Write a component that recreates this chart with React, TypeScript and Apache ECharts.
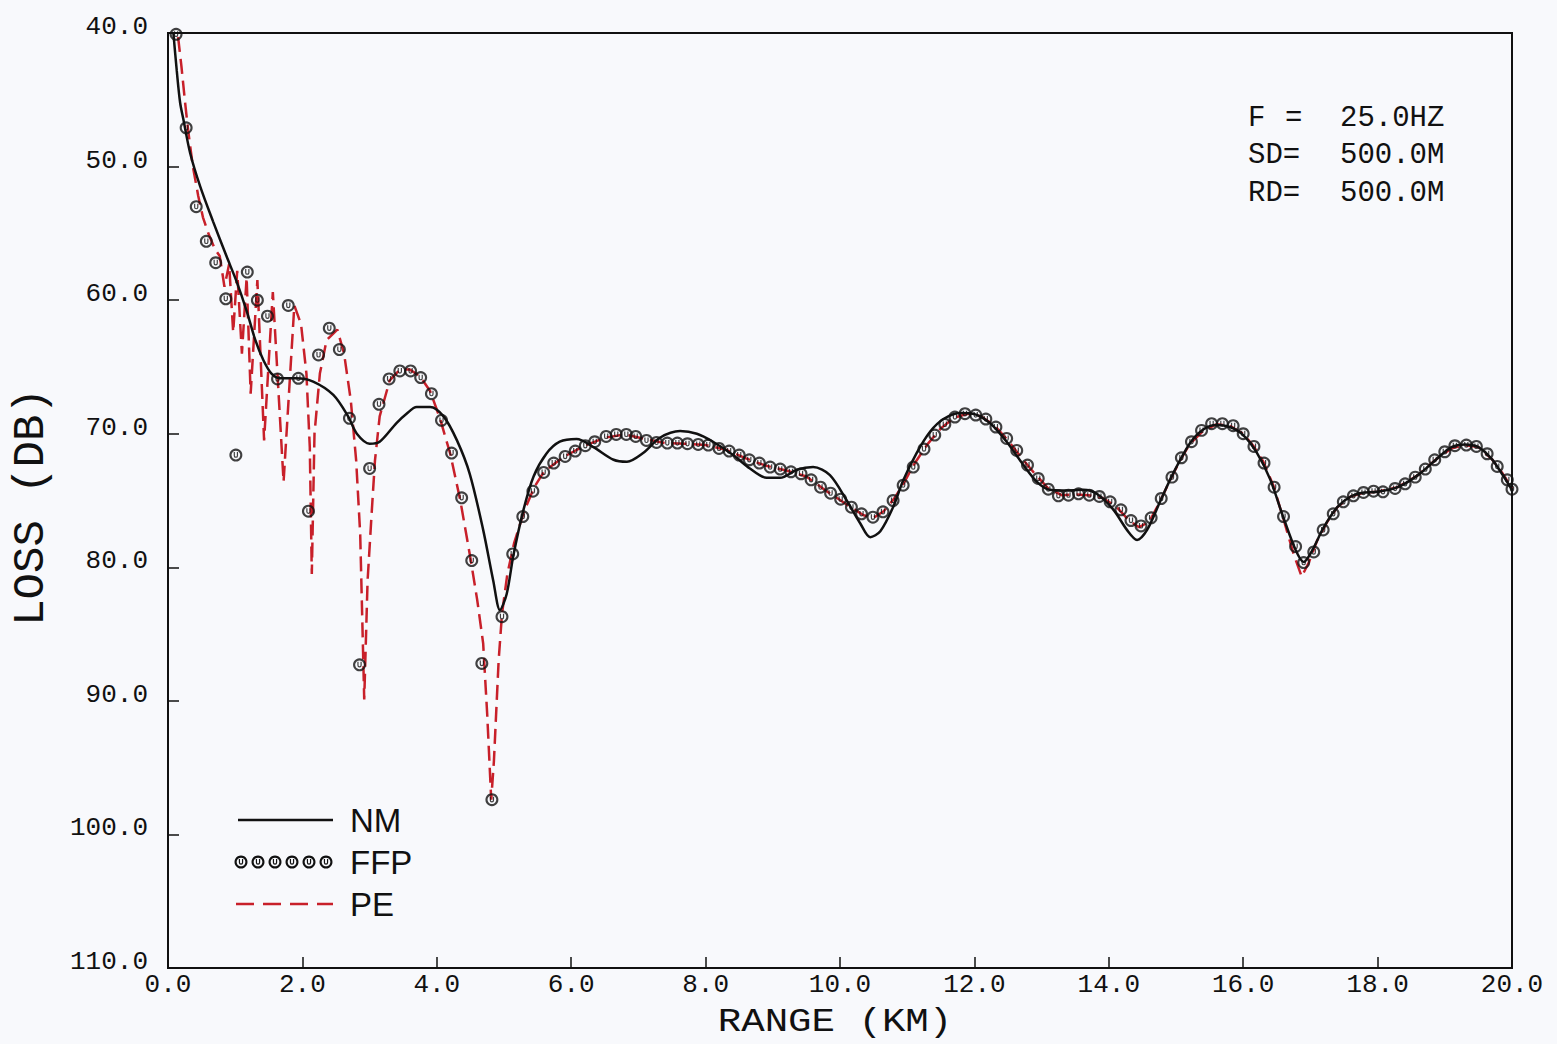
import React, { useEffect, useRef } from "react";
import * as echarts from "echarts";

// Transmission loss vs range, three propagation models.
const xTicks = [0, 2, 4, 6, 8, 10, 12, 14, 16, 18, 20];
const yTicks = [40, 50, 60, 70, 80, 90, 100, 110];

// Normal-mode solution [range km, loss dB]
const nmPoints: [number, number][] = [
  [0.08, 40.0], [0.13, 42.8], [0.18, 45.2], [0.23, 46.5], [0.33, 49.0], [0.48, 51.5],
  [0.67, 54.1], [0.87, 56.7], [1.02, 58.6], [1.17, 60.8], [1.3, 63.0], [1.42, 64.5],
  [1.54, 65.5], [1.67, 65.85], [1.91, 65.85], [2.16, 66.1], [2.46, 67.1], [2.68, 68.7],
  [2.81, 70.0], [3.0, 70.75], [3.15, 70.6], [3.4, 69.2], [3.55, 68.5], [3.7, 68.0],
  [3.9, 68.0], [4.1, 68.7], [4.3, 70.5], [4.49, 73.0], [4.69, 77.2], [4.84, 81.0],
  [4.94, 83.2], [5.04, 82.0], [5.14, 79.1], [5.29, 75.7], [5.44, 73.2], [5.63, 71.5],
  [5.83, 70.6], [6.08, 70.4], [6.33, 71.0], [6.63, 71.95], [6.83, 72.1], [7.07, 71.45],
  [7.32, 70.3], [7.62, 69.8], [7.87, 70.0], [8.11, 70.6], [8.41, 71.6], [8.66, 72.6],
  [8.91, 73.3], [9.11, 73.3], [9.36, 72.7], [9.6, 72.5], [9.85, 73.1], [10.1, 75.0],
  [10.3, 76.7], [10.45, 77.75], [10.6, 77.3], [10.79, 75.5], [10.94, 73.5], [11.14, 71.45],
  [11.34, 69.85], [11.54, 68.9], [11.79, 68.45], [11.98, 68.5], [12.23, 69.2], [12.48, 70.6],
  [12.73, 72.35], [12.93, 73.6], [13.12, 74.2], [13.32, 74.25], [13.62, 74.2], [13.82, 74.5],
  [14.07, 75.7], [14.27, 77.2], [14.42, 77.95], [14.57, 77.2], [14.77, 75.0], [14.96, 72.95],
  [15.21, 70.7], [15.4, 69.7], [15.6, 69.35], [15.8, 69.5], [16.0, 70.1], [16.2, 71.4],
  [16.4, 73.4], [16.6, 76.3], [16.78, 78.7], [16.9, 79.6], [17.02, 78.8], [17.2, 77.0],
  [17.4, 75.5], [17.6, 74.7], [17.8, 74.4], [18.0, 74.35], [18.3, 74.0], [18.6, 73.1],
  [18.9, 71.8], [19.1, 71.0], [19.3, 70.8], [19.5, 71.0], [19.7, 71.9], [19.85, 73.0],
  [20.0, 74.2],
];

// Fast-field solution, sampled points
const ffpPoints: [number, number][] = [
  [0.12, 40.1], [0.27, 47.1], [0.42, 53.0], [0.57, 55.6], [0.71, 57.2], [0.86, 59.9],
  [1.01, 71.6], [1.18, 57.9], [1.33, 60.0], [1.48, 61.2], [1.63, 65.9], [1.79, 60.4],
  [1.94, 65.85], [2.09, 75.8], [2.24, 64.1], [2.4, 62.1], [2.55, 63.7], [2.7, 68.85],
  [2.85, 87.3], [3.0, 72.6], [3.14, 67.8], [3.29, 65.9], [3.45, 65.3], [3.61, 65.3],
  [3.76, 65.8], [3.92, 67.0], [4.07, 69.0], [4.22, 71.45], [4.37, 74.8], [4.52, 79.5],
  [4.67, 87.2], [4.82, 97.4], [4.97, 83.7], [5.13, 79.0], [5.28, 76.2], [5.43, 74.3],
  [5.59, 72.9], [5.74, 72.2], [5.91, 71.7], [6.06, 71.3], [6.21, 70.9], [6.35, 70.6],
  [6.52, 70.2], [6.67, 70.05], [6.82, 70.05], [6.96, 70.2], [7.12, 70.5], [7.27, 70.65],
  [7.43, 70.7], [7.58, 70.7], [7.73, 70.75], [7.89, 70.8], [8.04, 70.85], [8.2, 71.1],
  [8.35, 71.3], [8.5, 71.6], [8.65, 71.95], [8.8, 72.2], [8.96, 72.5], [9.11, 72.65],
  [9.27, 72.85], [9.42, 73.0], [9.57, 73.45], [9.71, 74.0], [9.86, 74.45], [10.01, 74.9],
  [10.17, 75.5], [10.32, 76.0], [10.49, 76.25], [10.64, 75.85], [10.79, 75.0], [10.94, 73.85],
  [11.09, 72.5], [11.25, 71.15], [11.41, 70.1], [11.56, 69.3], [11.71, 68.75], [11.86, 68.5],
  [12.02, 68.6], [12.17, 68.9], [12.32, 69.5], [12.48, 70.35], [12.63, 71.25], [12.79, 72.35],
  [12.95, 73.35], [13.1, 74.15], [13.25, 74.65], [13.4, 74.6], [13.55, 74.5], [13.71, 74.6],
  [13.86, 74.7], [14.02, 75.1], [14.18, 75.7], [14.33, 76.5], [14.48, 76.9], [14.63, 76.3],
  [14.78, 74.85], [14.94, 73.25], [15.08, 71.8], [15.23, 70.6], [15.38, 69.75], [15.53, 69.25],
  [15.69, 69.25], [15.85, 69.4], [16.0, 70.0], [16.16, 70.95], [16.31, 72.2], [16.46, 74.0],
  [16.6, 76.2], [16.78, 78.45], [16.9, 79.65], [17.05, 78.85], [17.19, 77.2], [17.34, 76.0],
  [17.49, 75.1], [17.64, 74.65], [17.79, 74.4], [17.94, 74.3], [18.08, 74.35], [18.26, 74.1],
  [18.41, 73.75], [18.56, 73.25], [18.71, 72.65], [18.85, 71.95], [19.0, 71.35], [19.15, 70.9],
  [19.32, 70.85], [19.47, 70.95], [19.63, 71.5], [19.78, 72.45], [19.93, 73.45], [20.0, 74.15],
];

// Parabolic-equation solution
const pePoints: [number, number][] = [
  [0.15, 40.3], [0.2, 42.5], [0.25, 45.0], [0.3, 47.3], [0.37, 50.0], [0.45, 52.2],
  [0.52, 53.8], [0.6, 55.0], [0.7, 56.2], [0.77, 56.7], [0.84, 59.0], [0.91, 57.3],
  [0.97, 62.4], [1.03, 57.8], [1.1, 64.0], [1.17, 58.3], [1.23, 67.0], [1.33, 58.5],
  [1.43, 70.5], [1.56, 59.4], [1.72, 73.6], [1.88, 60.4], [1.98, 61.8], [2.06, 65.5],
  [2.11, 71.0], [2.14, 80.5], [2.18, 70.0], [2.26, 65.5], [2.36, 63.0], [2.52, 62.2],
  [2.62, 64.0], [2.72, 67.5], [2.8, 72.0], [2.86, 77.5], [2.92, 89.9], [2.97, 81.0],
  [3.03, 76.0], [3.08, 72.0], [3.15, 68.7], [3.3, 66.0], [3.45, 65.2], [3.6, 65.2],
  [3.75, 65.7], [3.9, 66.8], [4.05, 68.9], [4.2, 71.5], [4.35, 75.0], [4.5, 79.3],
  [4.6, 82.4], [4.69, 85.7], [4.75, 91.0], [4.81, 97.4], [4.85, 94.5], [4.92, 87.0],
  [4.97, 83.5], [5.05, 80.5], [5.15, 78.2], [5.3, 75.8], [5.45, 74.0], [5.6, 72.8],
  [5.9, 71.7], [6.2, 70.9], [6.5, 70.3], [6.8, 70.05], [7.1, 70.4], [7.4, 70.7],
  [7.7, 70.75], [8.0, 70.85], [8.3, 71.2], [8.6, 71.85], [8.9, 72.4], [9.2, 72.75],
  [9.5, 73.2], [9.8, 74.3], [10.1, 75.3], [10.35, 76.1], [10.5, 76.3], [10.65, 75.8],
  [10.8, 74.9], [10.95, 73.7], [11.1, 72.3], [11.3, 70.8], [11.5, 69.6], [11.7, 68.8],
  [11.9, 68.5], [12.1, 68.7], [12.3, 69.4], [12.5, 70.5], [12.7, 71.8], [12.9, 73.0],
  [13.1, 74.1], [13.3, 74.6], [13.5, 74.55], [13.7, 74.6], [13.9, 74.8], [14.1, 75.4],
  [14.3, 76.5], [14.45, 77.0], [14.6, 76.6], [14.75, 75.2], [14.9, 73.6], [15.05, 72.1],
  [15.2, 70.8], [15.4, 69.8], [15.6, 69.3], [15.8, 69.4], [16.0, 70.0], [16.15, 70.9],
  [16.3, 72.1], [16.45, 73.9], [16.6, 76.4], [16.75, 79.0], [16.87, 80.7], [16.98, 79.6],
  [17.1, 78.0], [17.25, 76.6], [17.4, 75.5], [17.6, 74.7], [17.8, 74.4], [18.0, 74.35],
  [18.3, 74.0], [18.6, 73.1], [18.9, 71.8], [19.1, 71.1], [19.3, 70.85], [19.5, 71.0],
  [19.7, 71.9], [19.85, 72.9], [20.0, 74.1],
];

const legendNames = ["NM", "FFP", "PE"];
const paramLabels = ["F", "SD=", "RD="];
const paramValues = ["25.0HZ", "500.0M", "500.0M"];

const INK = "#111111";
const RED = "#c8202a";
const MONO = "'Liberation Mono', 'DejaVu Sans Mono', monospace";
const SANS = "'Liberation Sans', Arial, sans-serif";

// open circle with a small "u" inside, 24x24 box
const MARK_D =
  "M12,0A12,12,0,1,1,11.99,0ZM12,4A8,8,0,1,0,12.01,4Z" +
  "M8,6.5H10.2V13A1.8,1.8,0,0,0,13.8,13V6.5H16V13A4,4,0,0,1,8,13Z";

export default function App() {
  const ref = useRef<HTMLDivElement>(null);

  useEffect(() => {
    if (!ref.current) return;
    echarts.graphic.registerShape("ffpMark", echarts.graphic.extendPath(MARK_D, {}) as any);
    const chart = echarts.init(ref.current, null, { renderer: "svg" });

    const legendY = [820, 862, 904];
    const markCx = [241, 258, 275, 292, 309, 326];

    const graphic: any[] = [
      {
        type: "text",
        x: 31,
        y: 507,
        rotation: Math.PI / 2,
        style: { text: "LOSS (DB)", font: `44px ${MONO}`, fill: INK, align: "center", verticalAlign: "middle" },
      },
      {
        type: "text",
        x: 835,
        y: 1022,
        scaleX: 1.15,
        style: {
          text: "RANGE (KM)",
          font: `34px ${MONO}`,
          fill: INK,
          align: "center",
          verticalAlign: "middle",
        },
      },
      {
        type: "line",
        shape: { x1: 238, y1: legendY[0], x2: 333, y2: legendY[0] },
        style: { stroke: INK, lineWidth: 2.5 },
      },
      ...markCx.map((cx) => ({
        type: "ffpMark",
        x: cx - 6.5,
        y: legendY[1] - 6.5,
        scaleX: 13 / 24,
        scaleY: 13 / 24,
        style: { fill: INK },
      })),
      {
        type: "line",
        shape: { x1: 236, y1: legendY[2], x2: 333, y2: legendY[2] },
        style: { stroke: RED, lineWidth: 2.5, lineDash: [18, 9] },
      },
      ...legendNames.map((t, i) => ({
        type: "text",
        x: 350,
        y: legendY[i],
        style: { text: t, font: `33px ${SANS}`, fill: INK, align: "left", verticalAlign: "middle" },
      })),
      ...paramLabels.map((t, i) => ({
        type: "text",
        x: 1248,
        y: 118 + i * 37.5,
        style: { text: t, font: `29px ${MONO}`, fill: INK, align: "left", verticalAlign: "middle" },
      })),
      {
        type: "text",
        x: 1285,
        y: 118,
        style: { text: "=", font: `29px ${MONO}`, fill: INK, align: "left", verticalAlign: "middle" },
      },
      ...paramValues.map((t, i) => ({
        type: "text",
        x: 1340,
        y: 118 + i * 37.5,
        style: { text: t, font: `29px ${MONO}`, fill: INK, align: "left", verticalAlign: "middle" },
      })),
    ];

    const axisCommon = {
      type: "value" as const,
      axisLine: { show: true, lineStyle: { color: INK, width: 2 } },
      axisTick: { show: true, inside: true, length: 11, lineStyle: { color: INK, width: 1.5 } },
      splitLine: { show: false },
    };

    chart.setOption({
      animation: false,
      backgroundColor: "#f8f9fc",
      grid: {
        left: 168,
        right: 45,
        top: 33,
        bottom: 76,
        show: true,
        borderColor: INK,
        borderWidth: 2,
        backgroundColor: "transparent",
      },
      xAxis: {
        ...axisCommon,
        min: xTicks[0],
        max: xTicks[xTicks.length - 1],
        interval: xTicks[1] - xTicks[0],
        axisLabel: {
          margin: 5,
          lineHeight: 24,
          formatter: (v: number) => v.toFixed(1),
          fontFamily: MONO,
          fontSize: 26,
          color: INK,
        },
      },
      yAxis: {
        ...axisCommon,
        inverse: true,
        min: yTicks[0],
        max: yTicks[yTicks.length - 1],
        interval: yTicks[1] - yTicks[0],
        axisLabel: {
          margin: 20,
          verticalAlign: "bottom",
          lineHeight: 12,
          formatter: (v: number) => v.toFixed(1),
          fontFamily: MONO,
          fontSize: 26,
          color: INK,
        },
      },
      series: [
        {
          name: "PE",
          type: "line",
          data: pePoints,
          showSymbol: false,
          smooth: false,
          z: 2,
          lineStyle: { color: RED, width: 2.5, type: [15, 7] },
        },
        {
          name: "NM",
          type: "line",
          data: nmPoints,
          showSymbol: false,
          smooth: 0.3,
          z: 3,
          lineStyle: { color: INK, width: 2.5 },
        },
        {
          name: "FFP",
          type: "scatter",
          data: ffpPoints,
          symbol: "path://" + MARK_D,
          symbolKeepAspect: true,
          symbolSize: 13,
          clip: false,
          z: 4,
          itemStyle: { color: INK },
        },
      ],
      graphic,
    });

    return () => chart.dispose();
  }, []);

  return (
    <div
      ref={ref}
      style={{ position: "absolute", left: 0, top: 0, width: 1557, height: 1044 }}
    />
  );
}
